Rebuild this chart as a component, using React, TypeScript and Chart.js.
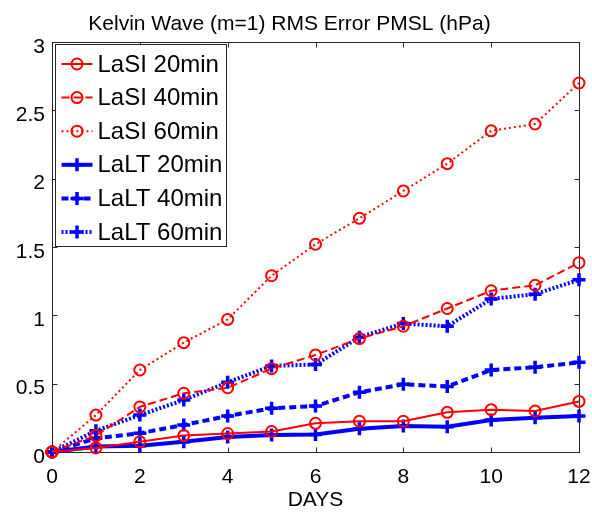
import React, { useEffect, useRef } from 'react';
import { Chart, registerables } from 'chart.js';
Chart.register(...registerables);

const days = [0, 1, 2, 3, 4, 5, 6, 7, 8, 9, 10, 11, 12];
const lasi20 = [0, 0.03, 0.075, 0.12, 0.135, 0.15, 0.21, 0.225, 0.225, 0.29, 0.31, 0.3, 0.37];
const lasi40 = [0, 0.12, 0.33, 0.43, 0.47, 0.61, 0.71, 0.83, 0.92, 1.05, 1.18, 1.22, 1.385];
const lasi60 = [0, 0.27, 0.6, 0.8, 0.97, 1.29, 1.52, 1.71, 1.91, 2.11, 2.35, 2.4, 2.7];
const lalt20 = [0, 0.04, 0.046, 0.075, 0.11, 0.124, 0.128, 0.17, 0.19, 0.185, 0.234, 0.25, 0.263];
const lalt40 = [0, 0.1, 0.137, 0.198, 0.263, 0.32, 0.336, 0.437, 0.495, 0.48, 0.6, 0.62, 0.656];
const lalt60 = [0, 0.155, 0.27, 0.38, 0.51, 0.63, 0.64, 0.84, 0.94, 0.92, 1.12, 1.155, 1.26];
const seriesLabels = ['LaSI 20min', 'LaSI 40min', 'LaSI 60min', 'LaLT 20min', 'LaLT 40min', 'LaLT 60min'];
const xTicks = [0, 2, 4, 6, 8, 10, 12];
const yTicks = [0, 0.5, 1, 1.5, 2, 2.5, 3];
const titleText = 'Kelvin Wave (m=1) RMS Error PMSL (hPa)';
const xTitle = 'DAYS';

const RED = 'rgb(255,0,0)';
const BLUE = 'rgb(0,0,255)';
const FONT = '"Liberation Sans", Arial, Helvetica, sans-serif';

const boxPlugin = {
  id: 'matlabBox',
  beforeDatasetsDraw(chart: any) {
    const { ctx, chartArea: a, scales } = chart;
    const L = Math.round(a.left) + 0.5;
    const R = Math.round(a.right) + 0.5;
    const T = Math.round(a.top) + 0.5;
    const B = Math.round(a.bottom) + 0.5;
    ctx.save();
    ctx.strokeStyle = '#262626';
    ctx.lineWidth = 1;
    ctx.strokeRect(L, T, R - L, B - T);
    const tl = 5;
    ctx.beginPath();
    xTicks.forEach((v) => {
      const x = Math.round(scales.x.getPixelForValue(v)) + 0.5;
      ctx.moveTo(x, B); ctx.lineTo(x, B - tl);
      ctx.moveTo(x, T); ctx.lineTo(x, T + tl);
    });
    yTicks.forEach((v) => {
      const y = Math.round(scales.y.getPixelForValue(v)) + 0.5;
      ctx.moveTo(L, y); ctx.lineTo(L + tl, y);
      ctx.moveTo(R, y); ctx.lineTo(R - tl, y);
    });
    ctx.stroke();
    ctx.restore();
  },
};

const legendPlugin = {
  id: 'matlabLegend',
  afterDraw(chart: any) {
    const { ctx, chartArea: a } = chart;
    const left = Math.round(a.left) + 3.5;
    const top = Math.round(a.top) + 2.5;
    const w = 171;
    const h = 202;
    ctx.save();
    ctx.fillStyle = '#fff';
    ctx.fillRect(left, top, w, h);
    ctx.strokeStyle = '#262626';
    ctx.lineWidth = 1;
    ctx.strokeRect(left, top, w, h);
    const rowH = 33.6;
    chart.data.datasets.forEach((ds: any, i: number) => {
      const cy = top + 19.5 + i * rowH;
      const x0 = left + 6;
      const x1 = left + 37;
      const cx = (x0 + x1) / 2;
      ctx.strokeStyle = ds.borderColor;
      ctx.lineWidth = ds.borderWidth;
      ctx.setLineDash(ds.borderDash || []);
      ctx.beginPath();
      ctx.moveTo(x0, cy); ctx.lineTo(x1, cy);
      ctx.stroke();
      ctx.setLineDash([]);
      ctx.lineWidth = ds.pointBorderWidth;
      ctx.beginPath();
      if (ds.pointStyle === 'circle') {
        ctx.arc(cx, cy, ds.pointRadius, 0, Math.PI * 2);
      } else {
        const r = ds.pointRadius;
        ctx.moveTo(cx - r, cy); ctx.lineTo(cx + r, cy);
        ctx.moveTo(cx, cy - r); ctx.lineTo(cx, cy + r);
      }
      ctx.stroke();
      ctx.fillStyle = '#000';
      ctx.font = '24px ' + FONT;
      ctx.textBaseline = 'middle';
      ctx.textAlign = 'left';
      ctx.fillText(ds.label, left + 42, cy + 1);
    });
    ctx.restore();
  },
};

export default function App() {
  const ref = useRef<HTMLCanvasElement | null>(null);
  useEffect(() => {
    if (!ref.current) return;
    const mk = (label: string, data: number[], color: string, dash: number[], lw: number, circle: boolean) => ({
      label,
      data: days.map((d, i) => ({ x: d, y: data[i] })),
      borderColor: color,
      backgroundColor: 'rgba(0,0,0,0)',
      borderWidth: lw,
      borderDash: dash,
      pointStyle: circle ? 'circle' : 'cross',
      pointRadius: circle ? 5.5 : 6.5,
      pointBorderWidth: circle ? 2 : 3.5,
      pointBorderColor: color,
      pointBackgroundColor: 'rgba(0,0,0,0)',
      fill: false,
      tension: 0,
      clip: false,
    });
    const chart = new Chart(ref.current, {
      type: 'line',
      data: {
        datasets: [
          mk(seriesLabels[0], lasi20, RED, [], 2, true),
          mk(seriesLabels[1], lasi40, RED, [8, 4], 2, true),
          mk(seriesLabels[2], lasi60, RED, [2, 3], 2, true),
          mk(seriesLabels[3], lalt20, BLUE, [], 4, false),
          mk(seriesLabels[4], lalt40, BLUE, [7, 4], 4, false),
          mk(seriesLabels[5], lalt60, BLUE, [2, 2], 4, false),
        ] as any,
      },
      options: {
        responsive: false,
        animation: false,
        events: [],
        layout: { padding: { left: 0, right: 13, top: 0, bottom: 0 } },
        plugins: {
          legend: { display: false },
          tooltip: { enabled: false },
          title: {
            display: true,
            text: titleText,
            color: '#000',
            font: { family: FONT, size: 21, weight: 'normal', lineHeight: 1.2 },
            padding: { top: 12, bottom: 4.8 },
          },
        },
        scales: {
          x: {
            type: 'linear',
            min: 0,
            max: 12,
            grid: { display: false, drawTicks: false },
            border: { display: false },
            afterBuildTicks: (s: any) => { s.ticks = xTicks.map((v) => ({ value: v })); },
            afterFit: (s: any) => { s.height = 62; s.paddingLeft = 0; s.paddingRight = 0; },
            ticks: {
              color: '#000',
              font: { family: FONT, size: 21 },
              padding: 13,
              maxRotation: 0,
              autoSkip: false,
              callback: (v: any) => String(v),
            },
            title: {
              display: true,
              text: xTitle,
              color: '#000',
              font: { family: FONT, size: 21 },
              padding: { top: 0, bottom: 1.5 },
            },
          },
          y: {
            type: 'linear',
            min: 0,
            max: 3,
            grid: { display: false, drawTicks: false },
            border: { display: false },
            afterBuildTicks: (s: any) => { s.ticks = yTicks.map((v) => ({ value: v })); },
            afterFit: (s: any) => { s.width = 52; s.paddingTop = 0; s.paddingBottom = 0; },
            ticks: {
              color: '#000',
              font: { family: FONT, size: 21 },
              padding: 7,
              labelOffset: 5,
              autoSkip: false,
              callback: (v: any) => String(v),
            },
          },
        },
      },
      plugins: [boxPlugin, legendPlugin],
    });
    return () => chart.destroy();
  }, []);
  return (
    <div style={{ position: 'absolute', left: 0, top: 0, width: 592, height: 514, background: '#fff' }}>
      <canvas ref={ref} width={592} height={514} style={{ display: 'block' }} />
    </div>
  );
}
